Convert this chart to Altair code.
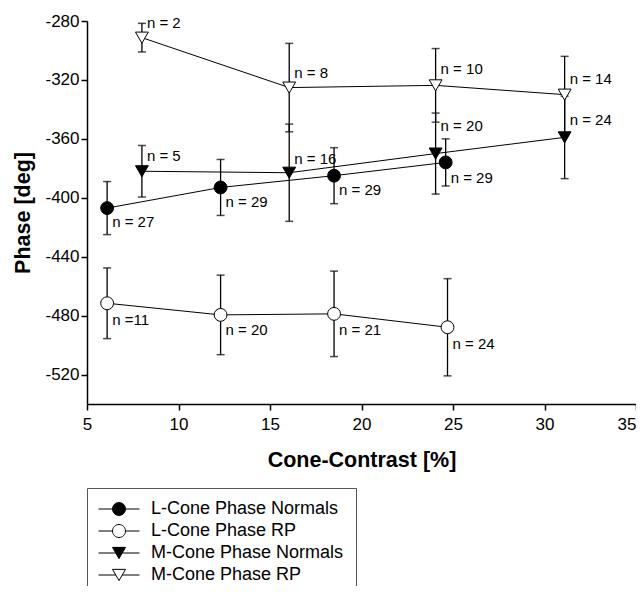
import altair as alt
import pandas as pd

FONT = "Liberation Sans, Arial, sans-serif"

series_names = ["L-Cone Phase Normals", "L-Cone Phase RP", "M-Cone Phase Normals", "M-Cone Phase RP"]

l_norm_x = [6.1, 12.3, 18.5, 24.6]
l_norm_y = [-407, -393, -385, -376]
l_norm_err = [18, 19, 19, 16]
l_norm_n = ["n = 27", "n = 29", "n = 29", "n = 29"]
l_norm_label_y = [-416.5, -403, -395, -386.7]

l_rp_x = [6.1, 12.3, 18.5, 24.7]
l_rp_y = [-471.6, -479.5, -478.8, -487.9]
l_rp_err = [24, 27, 29, 33]
l_rp_n = ["n =11", "n = 20", "n = 21", "n = 24"]
l_rp_label_y = [-483, -489.6, -490, -499.6]

m_norm_x = [8.0, 16.05, 24.05, 31.1]
m_norm_y = [-382, -383, -370, -359]
m_norm_err = [17.5, 33, 27.5, 28]
m_norm_n = ["n = 5", "n = 16", "n = 20", "n = 24"]
m_norm_label_y = [-371.4, -373.7, -351, -347.5]

m_rp_x = [8.0, 16.05, 24.05, 31.1]
m_rp_y = [-291.3, -325.2, -323.7, -330]
m_rp_err = [9.7, 30, 25, 26]
m_rp_n = ["n = 2", "n = 8", "n = 10", "n = 14"]
m_rp_label_y = [-281.4, -315.3, -312.8, -319.1]

x_ticks = [5, 10, 15, 20, 25, 30, 35]
y_ticks = [-280, -320, -360, -400, -440, -480, -520]

series_shape = ["circle", "circle", "triangle-down", "triangle-down"]
series_fill = ["black", "white", "black", "white"]
series_stroke = ["black", "black", "black", "black"]

rows = []
for name, xs, ys, es, ns, ls in [
    (series_names[0], l_norm_x, l_norm_y, l_norm_err, l_norm_n, l_norm_label_y),
    (series_names[1], l_rp_x, l_rp_y, l_rp_err, l_rp_n, l_rp_label_y),
    (series_names[2], m_norm_x, m_norm_y, m_norm_err, m_norm_n, m_norm_label_y),
    (series_names[3], m_rp_x, m_rp_y, m_rp_err, m_rp_n, m_rp_label_y),
]:
    for xv, yv, ev, nv, lv in zip(xs, ys, es, ns, ls):
        rows.append(dict(series=name, x=xv, y=yv, lo=yv - ev, hi=yv + ev, n=nv, label_y=lv))
df = pd.DataFrame(rows)

xs_scale = alt.Scale(domain=[5, 35], nice=False, zero=False)
ys_scale = alt.Scale(domain=[-540, -280], nice=False, zero=False)

X = alt.X("x:Q", scale=xs_scale,
          axis=alt.Axis(values=x_ticks, title="Cone-Contrast [%]", titlePadding=17, labelPadding=6,
                        labelAlign={"condition": {"test": "datum.value == 35", "value": "right"},
                                    "value": "center"}))
Y = alt.Y("y:Q", scale=ys_scale,
          axis=alt.Axis(values=y_ticks, title="Phase [deg]", titlePadding=10, labelPadding=2,
                        labelExpr="replace(datum.label, '\u2212', '-')"))

base = alt.Chart(df)

lines = base.mark_line(color="black", strokeWidth=1).encode(x=X, y=Y, detail="series:N", order="x:Q")
rules = base.mark_rule(color="black", strokeWidth=1.3).encode(x=X, y=alt.Y("lo:Q", scale=ys_scale), y2="hi:Q")
caps_lo = base.mark_tick(color="black", orient="horizontal", size=8, thickness=1.5).encode(
    x=X, y=alt.Y("lo:Q", scale=ys_scale))
caps_hi = base.mark_tick(color="black", orient="horizontal", size=8, thickness=1.5).encode(
    x=X, y=alt.Y("hi:Q", scale=ys_scale))

point_layers = []
for name, shp, fc in zip(series_names, series_shape, series_fill):
    point_layers.append(
        base.transform_filter(alt.datum.series == name)
        .mark_point(filled=True, shape=shp, fill=fc, stroke="black", strokeWidth=1, opacity=1, size=165)
        .encode(x=X, y=Y)
    )

labels = base.mark_text(align="left", baseline="middle", dx=5, fontSize=15, font=FONT, color="black").encode(
    x=X, y=alt.Y("label_y:Q", scale=ys_scale), text="n:N")

circ = "M-3.15,0H-1M1,0H3.15M0,-1A1,1 0 1,1 0,1A1,1 0 1,1 0,-1Z"
tri = "M-3.15,0H-0.5M0.5,0H3.15M-1,-0.866L1,-0.866L0,0.866Z"

leg = alt.Legend(orient="none", legendX=0, legendY=467, title=" ", titleOrient="bottom",
                 titleFontSize=12, titlePadding=6, strokeColor="#555",
                 padding=12, symbolSize=169, symbolStrokeWidth=1,
                 symbolOpacity=1, symbolOffset=11, labelOffset=23, labelFontSize=18, labelFont=FONT,
                 labelColor="black", labelLimit=400, rowPadding=4, fillColor="white")

legend_layer = base.mark_point(filled=False, opacity=0, strokeWidth=1).encode(
    x=X, y=Y,
    shape=alt.Shape("series:N", scale=alt.Scale(domain=series_names, range=[circ, circ, tri, tri]), legend=leg),
    fill=alt.Fill("series:N", scale=alt.Scale(domain=series_names, range=series_fill), legend=leg),
    stroke=alt.Stroke("series:N", scale=alt.Scale(domain=series_names, range=series_stroke), legend=leg),
)

chart = alt.layer(lines, rules, caps_lo, caps_hi, *point_layers, labels, legend_layer).properties(
    width=549, height=383,
    autosize=alt.AutoSizeParams(type="none"),
    padding={"left": 79, "top": 13, "right": 0, "bottom": 182},
).configure_view(stroke=None).configure_axis(
    grid=False, domainColor="black", domainWidth=1.5, tickColor="black", tickWidth=1.5, tickSize=6,
    labelFont=FONT, labelFontSize=17, labelColor="black",
    titleFont=FONT, titleFontSize=21.5, titleFontWeight="bold", titleColor="black",
)

chart.save("out.html", embed_options={"renderer": "svg", "actions": False})
